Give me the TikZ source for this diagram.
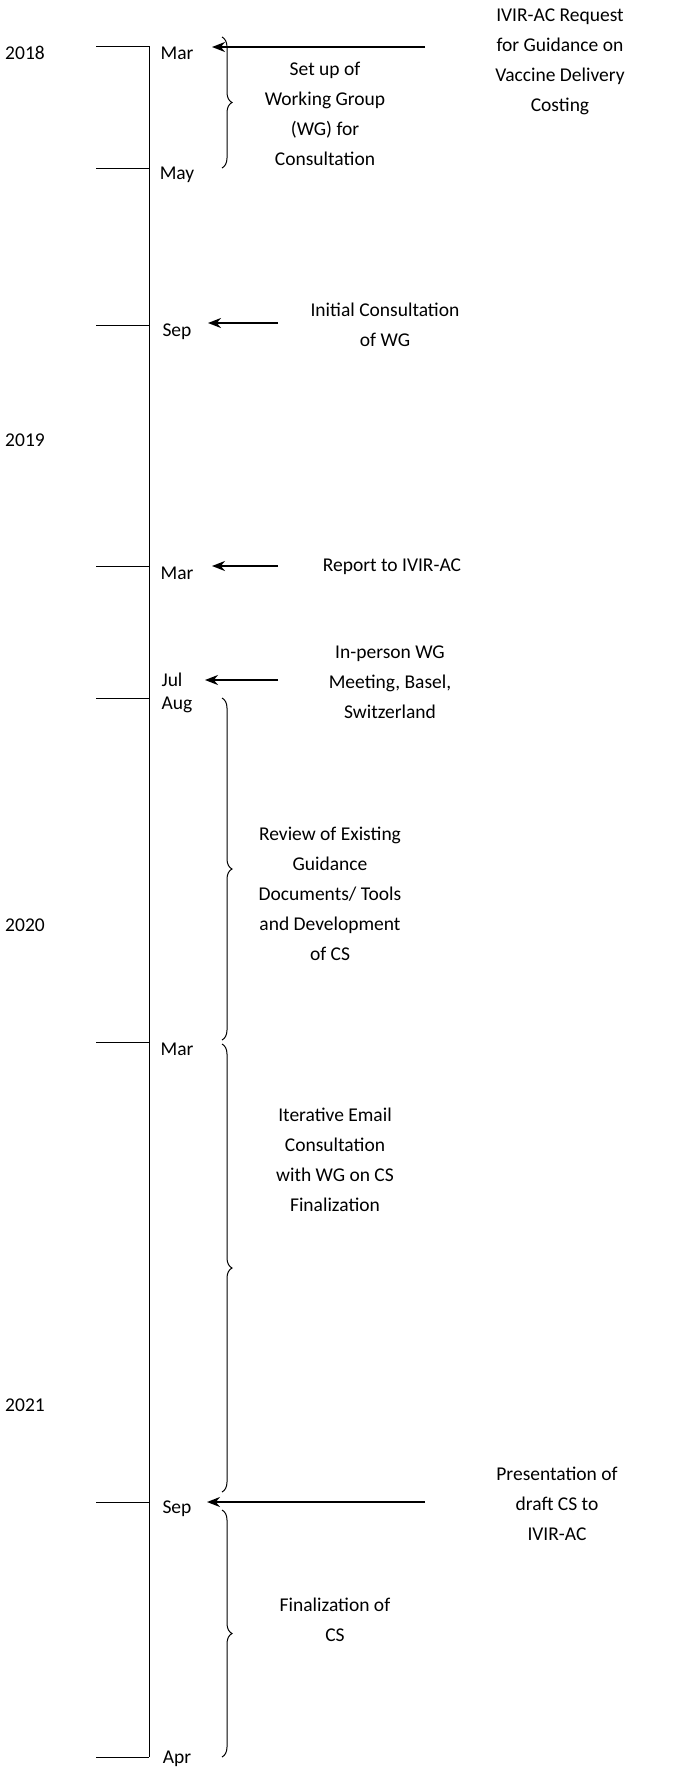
\documentclass[tikz,border=0pt]{standalone}
\usepackage{fontspec}
\setmainfont{Carlito}
\usetikzlibrary{decorations.pathreplacing,arrows.meta}
\begin{document}
\begin{tikzpicture}[x=1pt,y=-1pt,
  lbl/.style={font=\fontsize{19.5}{30}\selectfont,align=center,inner sep=0pt},
  tick/.style={line width=1pt},
  arr/.style={line width=2pt,-{Stealth[length=13pt,width=10pt]}},
  br/.style={line width=1pt,decorate,decoration={brace,amplitude=10pt}}]
\useasboundingbox (0,0) rectangle (685,1770);
\draw[tick] (149,46) -- (149,1757);
\foreach \y/\m/\n in {46/Mar/a,168/May/b,325/Sep/c,566/Mar/d,698/Aug/e,1042/Mar/f,1502/Sep/g}{
  \draw[tick] (96,\y) -- (149,\y);
  \node[lbl] (m\n) at (177,\y+7) {\m};
}
\draw[tick] (96,1757) -- (149,1757);
\node[lbl] (mh) at (177,1759) {Apr};
\node[lbl] (mj) at (172,680) {Jul};
\node[lbl] (y18) at (25,53) {2018};
\node[lbl] (y19) at (25,440) {2019};
\node[lbl] (y20) at (25,925) {2020};
\node[lbl] (y21) at (25,1405) {2021};
% right events
\node[lbl] (t1) at (560,62) {IVIR-AC Request\\for Guidance on\\Vaccine Delivery\\Costing};
\node[lbl] (t2) at (385,325) {Initial Consultation\\of WG};
\node[lbl] (t3) at (392,567) {Report to IVIR-AC};
\node[lbl] (t4) at (390,682) {In-person WG\\Meeting, Basel,\\Switzerland};
\node[lbl] (t5) at (557,1504) {Presentation of\\draft CS to\\IVIR-AC};
\coordinate (s1) at (425,47); \coordinate (e1) at (212,47);
\coordinate (s2) at (278,323); \coordinate (e2) at (208,323);
\coordinate (s3) at (278,566); \coordinate (e3) at (212,566);
\coordinate (s4) at (278,680); \coordinate (e4) at (205,680);
\coordinate (s5) at (425,1502); \coordinate (e5) at (207,1502);
\foreach \i in {1,...,5} \draw[arr] (s\i) -- (e\i);
% braces
\draw[br] (222,37) -- (222,168);
\node[lbl] (b1) at (325,114) {Set up of\\Working Group\\(WG) for\\Consultation};
\draw[br] (222,698) -- (222,1040);
\node[lbl] (b2) at (330,894) {Review of Existing\\Guidance\\Documents/ Tools\\and Development\\of CS};
\draw[br] (222,1044) -- (222,1492);
\node[lbl] (b3) at (335,1160) {Iterative Email\\Consultation\\with WG on CS\\Finalization};
\draw[br] (222,1510) -- (222,1757);
\node[lbl] (b4) at (335,1620) {Finalization of\\CS};
\end{tikzpicture}
\end{document}
